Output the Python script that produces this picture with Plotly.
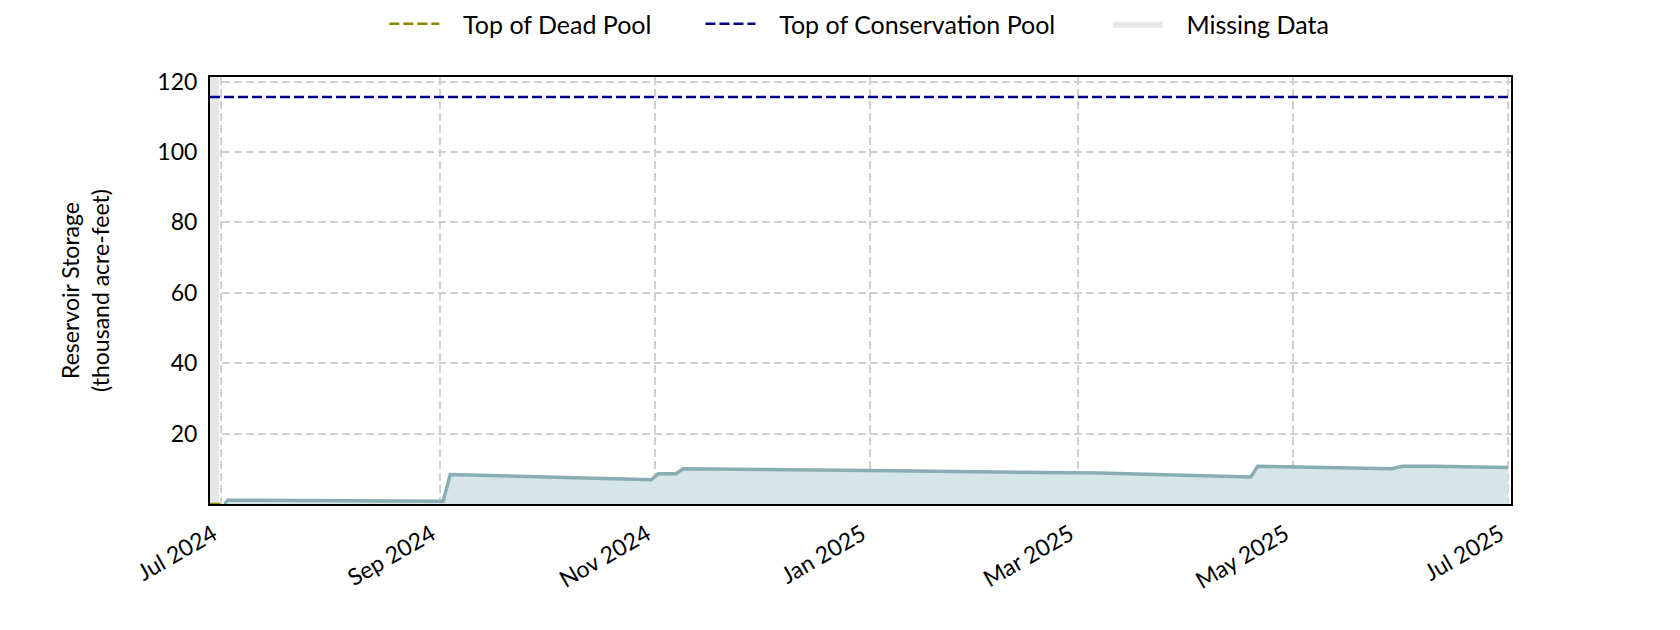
import plotly.graph_objects as go

# Reservoir storage, thousand acre-feet (breakpoints)
storage_dates = [
    "2024-07-02", "2024-07-03", "2024-09-02", "2024-09-04", "2024-10-31",
    "2024-11-02", "2024-11-07", "2024-11-09", "2025-01-01", "2025-03-07",
    "2025-04-19", "2025-04-21", "2025-05-29", "2025-06-01", "2025-06-10",
    "2025-07-01",
]
storage_values = [
    0.0, 1.1, 0.8, 8.4, 6.9,
    8.6, 8.6, 10.0, 9.5, 8.8,
    7.7, 10.7, 10.0, 10.7, 10.7,
    10.4,
]

x_range = ["2024-06-27 21:00", "2025-07-01 20:00"]
y_top = 121.3

dead_pool = 0.0
conservation_pool = 115.6

missing_start = "2024-06-27 21:00"
missing_end = "2024-06-30 10:00"

tick_dates = ["2024-07-01", "2024-09-01", "2024-11-01", "2025-01-01",
              "2025-03-01", "2025-05-01", "2025-07-01"]
tick_labels = ["Jul 2024", "Sep 2024", "Nov 2024", "Jan 2025",
               "Mar 2025", "May 2025", "Jul 2025"]

FONT = "Lato"
GRID = "#d0d0d0"
GAP = "\u2003"  # visual gap between legend symbol and its label

fig = go.Figure()

fig.add_trace(go.Scatter(
    x=[missing_start, missing_start, missing_end, missing_end],
    y=[0, y_top, y_top, 0],
    fill="toself", fillcolor="#e6e6e6", mode="lines",
    line=dict(width=0), name=GAP + "Missing Data", legend="legend3",
    hoverinfo="skip",
))

fig.add_trace(go.Scatter(
    x=x_range, y=[dead_pool, dead_pool], mode="lines",
    line=dict(color="#8c8600", width=2.5, dash="10px,4px"),
    name=GAP + "Top of Dead Pool", legend="legend",
))

fig.add_trace(go.Scatter(
    x=storage_dates, y=storage_values, mode="lines",
    line=dict(color="#8aadb3", width=3.5),
    fill="tozeroy", fillcolor="#d6e5e8",
    showlegend=False, name="Storage",
))

fig.add_trace(go.Scatter(
    x=x_range, y=[conservation_pool, conservation_pool], mode="lines",
    line=dict(color="#00008b", width=2.5, dash="10px,4px"),
    name=GAP + "Top of Conservation Pool", legend="legend2",
))

legend_common = dict(
    orientation="h", yanchor="middle", y=1.124, xanchor="left",
    font=dict(family=FONT, size=25, color="black"),
    bgcolor="rgba(0,0,0,0)", itemwidth=50,
)

fig.update_layout(
    width=1680, height=630,
    margin=dict(l=202, r=177, t=69, b=134, autoexpand=False),
    paper_bgcolor="white", plot_bgcolor="white",
    font=dict(family=FONT, size=22, color="black"),
    legend=dict(x=0.134, **legend_common),
    legend2=dict(x=0.377, **legend_common),
    legend3=dict(x=0.690, **legend_common),
    xaxis=dict(
        type="date", range=x_range,
        tickvals=tick_dates, ticktext=tick_labels, tickangle=-30,
        ticklabelshift=-8,
        showgrid=True, gridcolor=GRID, gridwidth=1.5, griddash="8px,4px",
        showline=True, linecolor="black", linewidth=2, mirror=True,
        ticks="outside", ticklen=6, tickcolor="rgba(0,0,0,0)",
        tickfont=dict(family=FONT, size=23), zeroline=False,
    ),
    yaxis=dict(
        range=[0, y_top], tickvals=[20, 40, 60, 80, 100, 120],
        showgrid=True, gridcolor=GRID, gridwidth=1.5, griddash="8px,4px",
        showline=True, linecolor="black", linewidth=2, mirror=True,
        ticks="outside", ticklen=6, tickcolor="rgba(0,0,0,0)",
        tickfont=dict(family=FONT, size=23), zeroline=False,
        title=dict(text="Reservoir Storage<br>(thousand acre-feet)",
                   font=dict(family=FONT, size=23), standoff=41),
    ),
)

fig.write_html("out.html")
